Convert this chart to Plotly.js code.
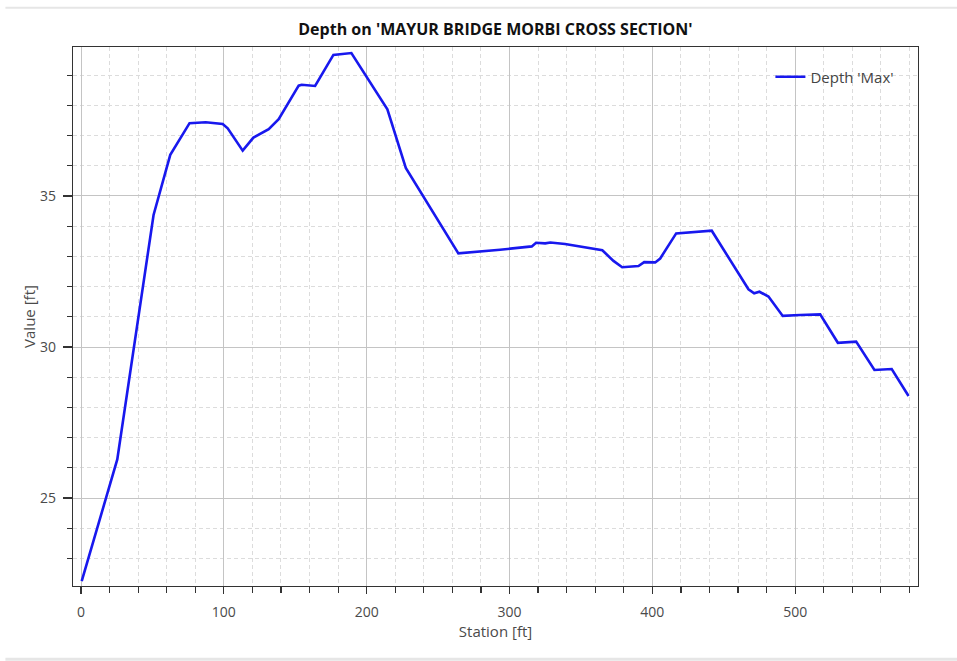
<!DOCTYPE html>
<html>
<head>
<meta charset="utf-8">
<script src="https://cdn.plot.ly/plotly-3.0.1.min.js"></script>
<style>
  html, body { margin: 0; padding: 0; background: #ffffff; }
  #chart { width: 957px; height: 661px; }
</style>
</head>
<body>
<div id="chart"></div>
<script>
// Station [ft]
const station = [0.5, 25.4, 50.8, 62.5, 76.0, 87.3, 99.2, 102.7, 113.2, 120.7, 131.4, 138.4,
  152.4, 154.5, 163.9, 176.7, 189.3, 214.5, 227.4, 264.2, 293.4, 315.6, 318.6, 325.0,
  328.6, 338.9, 365.0, 372.8, 378.9, 390.3, 394.3, 402.0, 405.5, 416.7, 441.6, 467.3,
  471.3, 475.0, 481.3, 491.3, 503.5, 517.5, 529.9, 542.7, 555.5, 567.6, 579.4];
// Depth 'Max' [ft]
const depthMax = [22.25, 26.28, 34.37, 36.36, 37.41, 37.44, 37.38, 37.24, 36.50, 36.93, 37.21, 37.54,
  38.65, 38.68, 38.64, 39.67, 39.73, 37.87, 35.93, 33.10, 33.22, 33.33, 33.45, 33.43,
  33.46, 33.41, 33.20, 32.85, 32.64, 32.68, 32.81, 32.80, 32.93, 33.76, 33.85, 31.91,
  31.78, 31.83, 31.67, 31.03, 31.06, 31.08, 30.14, 30.18, 29.24, 29.27, 28.38];

const seriesName = "Depth 'Max'";
const chartTitle = "Depth on 'MAYUR BRIDGE MORBI CROSS SECTION'";
const xTitle = "Station [ft]";
const yTitle = "Value [ft]";

const FONT = "Open Sans, Noto Sans, sans-serif";
const majorGrid = "#c4c4c4";
const minorGrid = "#dcdcdc";

const trace = {
  x: station,
  y: depthMax,
  type: "scatter",
  mode: "lines",
  name: seriesName,
  line: { color: "rgb(24,24,238)", width: 2.6 },
  showlegend: true
};

const axisCommon = {
  showline: true,
  linecolor: "#333333",
  linewidth: 1.3,
  mirror: true,
  ticks: "outside",
  tickcolor: "#333333",
  tickwidth: 1.3,
  showgrid: true,
  gridcolor: majorGrid,
  gridwidth: 1,
  zeroline: false,
  tickfont: { family: FONT, size: 14, color: "#4a4a4a" },
};

const layout = {
  width: 957,
  height: 661,
  paper_bgcolor: "#ffffff",
  plot_bgcolor: "#ffffff",
  margin: { l: 73, r: 39, t: 47, b: 75, pad: 0 },
  title: {
    text: "<b>" + chartTitle + "</b>",
    x: 0.5177, xanchor: "center",
    y: 0.955, yanchor: "middle",
    font: { family: FONT, size: 16, color: "#111111" }
  },
  xaxis: Object.assign({}, axisCommon, {
    range: [-5.6, 586],
    dtick: 100,
    tick0: 0,
    ticklen: 7,
    ticklabelstandoff: 6,
    title: { text: xTitle, font: { family: FONT, size: 15, color: "#4a4a4a" }, standoff: 6 },
    minor: { dtick: 20, tick0: 0, ticks: "outside", ticklen: 6, tickcolor: "#333333", tickwidth: 1.2,
             showgrid: true, gridcolor: minorGrid, griddash: "4px,3px", gridwidth: 1 }
  }),
  yaxis: Object.assign({}, axisCommon, {
    range: [22.09, 39.93],
    dtick: 5,
    tick0: 0,
    ticklen: 9,
    ticklabelstandoff: 4,
    title: { text: yTitle, font: { family: FONT, size: 15, color: "#4a4a4a" }, standoff: 0 },
    minor: { dtick: 1, tick0: 0, ticks: "outside", ticklen: 5, tickcolor: "#333333", tickwidth: 1.2,
             showgrid: true, gridcolor: minorGrid, griddash: "4px,3px", gridwidth: 1 }
  }),
  legend: {
    x: 0.978, xanchor: "right",
    y: 0.975, yanchor: "top",
    bgcolor: "rgba(0,0,0,0)",
    borderwidth: 0,
    font: { family: FONT, size: 15, color: "#444444" }
  },
  shapes: [
    { type: "line", xref: "paper", yref: "paper", x0: -0.08, x1: 1.05, y0: 1.073, y1: 1.073,
      line: { color: "#e6e6e6", width: 2 } },
    { type: "line", xref: "paper", yref: "paper", x0: -0.08, x1: 1.05, y0: -0.136, y1: -0.136,
      line: { color: "#e6e6e6", width: 3 } }
  ]
};

Plotly.newPlot("chart", [trace], layout, { displayModeBar: false, staticPlot: true });
</script>
</body>
</html>
